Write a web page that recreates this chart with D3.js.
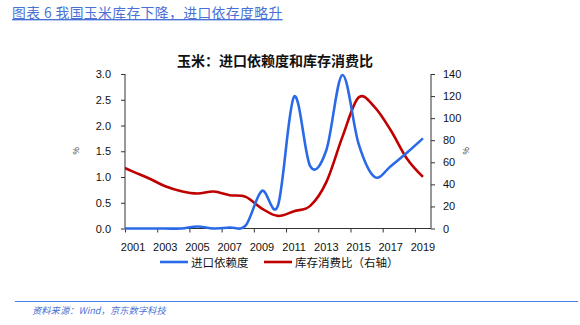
<!DOCTYPE html>
<html><head><meta charset="utf-8">
<script src="https://cdn.jsdelivr.net/npm/d3@7/dist/d3.min.js"></script>
<style>
body{margin:0;background:#fff;}
svg{display:block;}
</style></head>
<body><svg id="c" width="580" height="325"></svg>
<script>
const years = [2000,2001,2002,2003,2004,2005,2006,2007,2008,2009,2010,2011,2012,2013,2014,2015,2016,2017,2018,2019];
const importDependence = [0,0,0,0,0,0.04,0,0.02,0.06,0.73,0.45,2.56,1.21,1.52,2.98,1.65,1.0,1.21,1.47,1.75];
const stockToUse = [58,51.5,45.3,38.3,33.8,31.7,33.5,30.2,28.7,18.1,11.4,15.7,20.5,42,83,118.7,110,89,63.5,46.8];
const xTickLabels = [2001,2003,2005,2007,2009,2011,2013,2015,2017,2019];
const leftTicks = [0,0.5,1.0,1.5,2.0,2.5,3.0];
const rightTicks = [0,20,40,60,80,100,120,140];
const seriesNames = ["进口依赖度","库存消费比（右轴）"];

const svg = d3.select("#c");
const L=125, R=431, T=74, B=228.5;
const font = "'Noto Sans CJK SC', 'Noto Sans', sans-serif";

const x = d3.scaleLinear().domain([2000.5,2019.5]).range([L,R]);
const yL = d3.scaleLinear().domain([0,3]).range([B,T]);
const yR = d3.scaleLinear().domain([0,140]).range([B,T]);

// header
svg.append("text").attr("x",12).attr("y",18).attr("font-family",font).attr("font-size",13.8)
  .attr("letter-spacing",0.4).attr("fill","#4a72d6").attr("text-decoration","underline")
  .text("图表 6 我国玉米库存下降，进口依存度略升");

svg.append("text").attr("x",275).attr("y",66).attr("text-anchor","middle").attr("font-family",font)
  .attr("font-size",14).attr("font-weight","bold").attr("fill","#111").text("玉米：进口依赖度和库存消费比");

// axes
const axisCol="#333";
const gx = svg.append("g").attr("transform",`translate(0,${B})`)
  .call(d3.axisBottom(x).tickValues(d3.range(2000.5,2020,2)).tickSize(4).tickFormat(""));
gx.selectAll("path,line").attr("stroke",axisCol);
gx.select("path").attr("d",`M${L},0H${R}`);
svg.append("g").selectAll("text").data(xTickLabels).join("text")
  .attr("x",d=>x(d)).attr("y",251).attr("text-anchor","middle")
  .attr("font-family","Arial, 'Liberation Sans', sans-serif").attr("font-size",11).attr("fill","#111")
  .text(d=>d);

const gl = svg.append("g").attr("transform",`translate(${L},0)`)
  .call(d3.axisLeft(yL).tickValues(leftTicks).tickSize(4).tickFormat(d3.format(".1f")));
gl.selectAll("line").attr("stroke",axisCol);
gl.selectAll("text").attr("x",-14).attr("font-family","Arial, 'Liberation Sans', sans-serif").attr("font-size",11).attr("fill","#111");
gl.select(".domain").attr("d",`M0,${T}V${B}`).attr("stroke",axisCol);

const gr = svg.append("g").attr("transform",`translate(${R},0)`)
  .call(d3.axisRight(yR).tickValues(rightTicks).tickSize(4));
gr.select(".domain").attr("d",`M0,${T}V${B}`).attr("stroke",axisCol);
gr.selectAll("line").attr("stroke",axisCol);
gr.selectAll("text").attr("x",12).attr("font-family","Arial, 'Liberation Sans', sans-serif").attr("font-size",11).attr("fill","#111");

// unit labels
svg.append("text").attr("transform",`translate(73,151) rotate(90)`).attr("text-anchor","middle")
  .attr("font-family",font).attr("font-size",8).attr("fill","#333").text("%");
svg.append("text").attr("transform",`translate(463,151) rotate(90)`).attr("text-anchor","middle")
  .attr("font-family",font).attr("font-size",8).attr("fill","#333").text("%");

// clip
svg.append("clipPath").attr("id","clip").append("rect").attr("x",L).attr("y",T-10).attr("width",R-L).attr("height",B-T+20);

const curve = d3.curveCatmullRom.alpha(0);
const lineL = d3.line().x((d,i)=>x(years[i])).y(d=>yL(d)).curve(curve);
const lineR = d3.line().x((d,i)=>x(years[i])).y(d=>yR(d)).curve(curve);
const colors = ["#2b6ae6","#c00000"];

svg.append("path").attr("clip-path","url(#clip)").attr("d",lineR(stockToUse)).attr("fill","none")
  .attr("stroke",colors[1]).attr("stroke-width",2.6).attr("stroke-linejoin","round");
svg.append("path").attr("clip-path","url(#clip)").attr("d",lineL(importDependence)).attr("fill","none")
  .attr("stroke",colors[0]).attr("stroke-width",2.6).attr("stroke-linejoin","round");

// legend
const legX = [160,264];
seriesNames.forEach((n,i)=>{
  svg.append("line").attr("x1",legX[i]).attr("x2",legX[i]+28).attr("y1",262).attr("y2",262)
    .attr("stroke",colors[i]).attr("stroke-width",2.6);
  svg.append("text").attr("x",legX[i]+31).attr("y",266.5).attr("font-family",font).attr("font-size",11.5)
    .attr("fill","#111").text(n);
});

// footer
svg.append("line").attr("x1",15).attr("x2",578).attr("y1",301.5).attr("y2",301.5).attr("stroke","#4a7ee6").attr("stroke-width",1.2);
svg.append("text").attr("x",32).attr("y",314).attr("font-family",font).attr("font-size",9.3)
  .attr("font-style","italic").attr("fill","#4a72d6").text("资料来源：Wind，京东数字科技");
</script></body></html>
